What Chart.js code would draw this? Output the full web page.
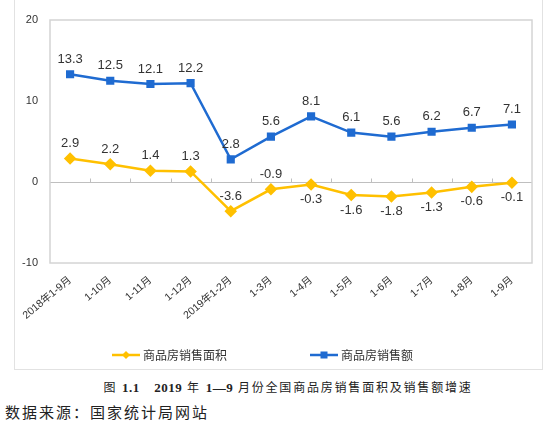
<!DOCTYPE html>
<html>
<head>
<meta charset="utf-8">
<script src="https://cdn.jsdelivr.net/npm/chart.js@4/dist/chart.umd.min.js"></script>
<style>
body { margin: 0; background: #fff; width: 553px; height: 428px; overflow: hidden; position: relative; }
#frame { position: absolute; left: 14px; top: 0; width: 529px; height: 370px; box-sizing: border-box; border: 1px solid #e2e2e2; border-top: none; }
#myChart { display: block; }
.caption { position: absolute; left: 0; width: 576px; top: 378px; text-align: center; font-family: "Liberation Serif", "Noto Sans CJK SC", serif; font-size: 12px; letter-spacing: 1.8px; color: #222; white-space: pre; }
.caption b { font-family: "Liberation Serif", serif; font-size: 13px; letter-spacing: 0.5px; }
.source { position: absolute; left: 5px; top: 401px; font-family: "Noto Sans CJK SC", sans-serif; font-size: 15px; letter-spacing: 2px; color: #222; }
</style>
</head>
<body>
<div id="frame"><canvas id="myChart" width="527" height="369"></canvas></div>
<div class="caption">图 <b>1.1</b>   <b>2019</b> 年 <b>1—9</b> 月份全国商品房销售面积及销售额增速</div>
<div class="source">数据来源：国家统计局网站</div>
<script>
// 数据
const categories = ['2018年1-9月', '1-10月', '1-11月', '1-12月', '2019年1-2月', '1-3月', '1-4月', '1-5月', '1-6月', '1-7月', '1-8月', '1-9月'];
const salesArea = [2.9, 2.2, 1.4, 1.3, -3.6, -0.9, -0.3, -1.6, -1.8, -1.3, -0.6, -0.1];
const salesAmount = [13.3, 12.5, 12.1, 12.2, 2.8, 5.6, 8.1, 6.1, 5.6, 6.2, 6.7, 7.1];
const yMin = -10;
const yMax = 20;
const yStep = 10;

const blue = '#1f6bd1';
const yellow = '#ffc000';

// marco del area de trazado + linea del cero con marcas
const framePlugin = {
  id: 'framePlugin',
  beforeDatasetsDraw(chart) {
    const { ctx, chartArea: a, scales } = chart;
    ctx.save();
    ctx.strokeStyle = '#d4d4d4';
    ctx.lineWidth = 1.5;
    ctx.strokeRect(a.left, a.top, a.right - a.left, a.bottom - a.top);
    const y0 = Math.round(scales.y.getPixelForValue(0)) + 0.5;
    const n = categories.length;
    const w = (a.right - a.left) / n;
    ctx.strokeStyle = '#bfbfbf';
    ctx.lineWidth = 1;
    ctx.beginPath();
    for (let i = 1; i < n; i++) {
      const x = Math.round(a.left + i * w) + 0.5;
      ctx.moveTo(x, y0);
      ctx.lineTo(x, y0 - 4);
    }
    ctx.stroke();
    ctx.restore();
  }
};

// etiquetas de valores
const valueLabels = {
  id: 'valueLabels',
  afterDatasetsDraw(chart) {
    const { ctx } = chart;
    ctx.save();
    ctx.font = '13px "Liberation Sans", Arial, sans-serif';
    ctx.fillStyle = '#333';
    ctx.textAlign = 'center';
    ctx.textBaseline = 'middle';
    chart.data.datasets.forEach((ds, di) => {
      const meta = chart.getDatasetMeta(di);
      meta.data.forEach((pt, i) => {
        const below = ds.labelBelow ? ds.labelBelow(i) : false;
        const y = below ? pt.y + 15 : pt.y - 15;
        ctx.fillText(ds.data[i].toFixed(1), pt.x, y);
      });
    });
    ctx.restore();
  }
};

// leyenda
const customLegend = {
  id: 'customLegend',
  afterDraw(chart) {
    const { ctx, chartArea: a } = chart;
    const y = 355;
    const starts = [a.left + 62, a.left + 260];
    ctx.save();
    chart.data.datasets.forEach((ds, di) => {
      const x = starts[di];
      ctx.strokeStyle = ds.borderColor;
      ctx.lineWidth = 2.5;
      ctx.beginPath();
      ctx.moveTo(x, y);
      ctx.lineTo(x + 28, y);
      ctx.stroke();
      ctx.fillStyle = ds.borderColor;
      if (ds.pointStyle === 'rectRot') {
        ctx.beginPath();
        ctx.moveTo(x + 14, y - 4);
        ctx.lineTo(x + 18, y);
        ctx.lineTo(x + 14, y + 4);
        ctx.lineTo(x + 10, y);
        ctx.closePath();
        ctx.fill();
      } else {
        ctx.fillRect(x + 10.5, y - 3.5, 7, 7);
      }
      ctx.fillStyle = '#333';
      ctx.font = '12px "Noto Sans CJK SC", sans-serif';
      ctx.textBaseline = 'middle';
      ctx.fillText(ds.label, x + 31, y);
    });
    ctx.restore();
  }
};

const ctx = document.getElementById('myChart');

const myChart = new Chart(ctx, {
  type: 'line',
  data: {
    labels: categories,
    datasets: [
      {
        label: '商品房销售面积',
        data: salesArea,
        borderColor: yellow,
        backgroundColor: yellow,
        borderWidth: 2.5,
        pointStyle: 'rectRot',
        pointRadius: 4.5,
        tension: 0,
        labelBelow: (i) => i > 5
      },
      {
        label: '商品房销售额',
        data: salesAmount,
        borderColor: blue,
        backgroundColor: blue,
        borderWidth: 2.5,
        pointStyle: 'rect',
        pointRadius: 4,
        tension: 0
      }
    ]
  },
  options: {
    responsive: false,
    animation: false,
    layout: { padding: { top: 20, right: 10, bottom: 0, left: 0 } },
    plugins: {
      legend: { display: false },
      tooltip: { enabled: false }
    },
    scales: {
      x: {
        offset: true,
        grid: { display: false },
        border: { display: false },
        afterFit: (s) => { s.height = 106; },
        ticks: {
          autoSkip: false,
          maxRotation: 40,
          minRotation: 40,
          padding: 3,
          color: '#333',
          font: { size: 10.5, family: '"Liberation Sans", "Noto Sans CJK SC", sans-serif' }
        }
      },
      y: {
        min: yMin,
        max: yMax,
        afterFit: (s) => { s.width = 35; },
        grid: {
          drawTicks: false,
          color: (c) => c.tick && c.tick.value === 0 ? '#bfbfbf' : 'rgba(0,0,0,0)'
        },
        border: { display: false },
        ticks: {
          stepSize: yStep,
          padding: 12,
          color: '#333',
          font: { size: 11, family: '"Liberation Sans", Arial, sans-serif' }
        }
      }
    }
  },
  plugins: [framePlugin, valueLabels, customLegend]
});
</script>
</body>
</html>
